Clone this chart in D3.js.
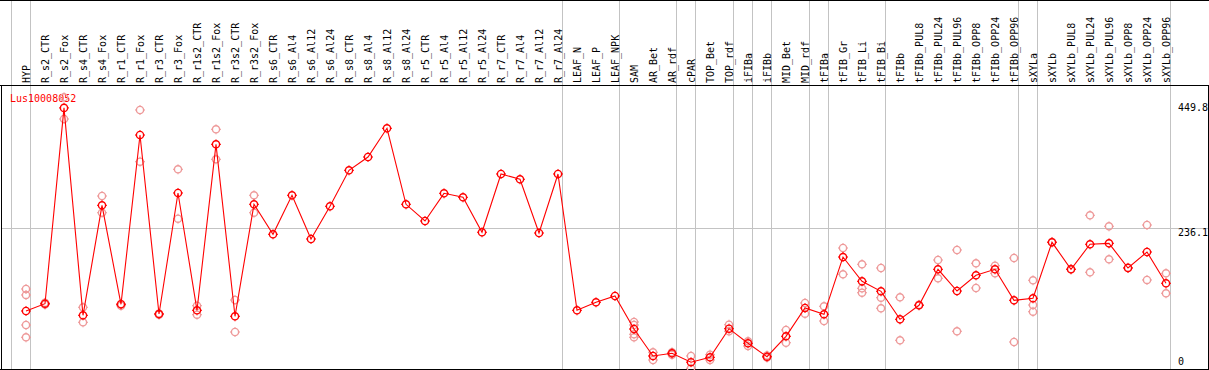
<!DOCTYPE html>
<html>
<head>
<meta charset="utf-8">
<script src="https://cdn.jsdelivr.net/npm/d3@7"></script>
<style>
body { margin: 0; background: #fff; }
svg { display: block; }
text { font-family: "DejaVu Sans Mono", monospace; font-size: 10px; }
</style>
</head>
<body>
<div id="chart"></div>
<script>
(function() {

const w = 1209;
const h = 370;

const geneName = "Lus10008052";

const categories = [
    "HYP", "R_s2_CTR", "R_s2_Fox", "R_s4_CTR", "R_s4_Fox", "R_r1_CTR", "R_r1_Fox",
    "R_r3_CTR", "R_r3_Fox", "R_r1s2_CTR", "R_r1s2_Fox", "R_r3s2_CTR", "R_r3s2_Fox",
    "R_s6_CTR", "R_s6_Al4", "R_s6_Al12", "R_s6_Al24", "R_s8_CTR", "R_s8_Al4", "R_s8_Al12",
    "R_s8_Al24", "R_r5_CTR", "R_r5_Al4", "R_r5_Al12", "R_r5_Al24", "R_r7_CTR", "R_r7_Al4",
    "R_r7_Al12", "R_r7_Al24", "LEAF_N", "LEAF_P", "LEAF_NPK", "SAM", "AR_Bet", "AR_rdf",
    "cPAR", "TOP_Bet", "TOP_rdf", "iFIBa", "iFIBb", "MID_Bet", "MID_rdf", "tFIBa",
    "tFIB_Gr", "tFIB_Li", "tFIB_Bi", "tFIBb", "tFIBb_PUL8", "tFIBb_PUL24", "tFIBb_PUL96",
    "tFIBb_OPP8", "tFIBb_OPP24", "tFIBb_OPP96", "sXYLa", "sXYLb", "sXYLb_PUL8",
    "sXYLb_PUL24", "sXYLb_PUL96", "sXYLb_OPP8", "sXYLb_OPP24", "sXYLb_OPP96"
];

// mean expression per sample
const means = [
    89.6, 102.5, 449.8, 81.9, 277.0, 101.5, 401.7, 84.2, 298.9, 90.8, 385.2, 80.2, 278.8,
    225.6, 294.8, 217.3, 275.3, 339.1, 362.7, 413.6, 278.8, 249.2, 298.3, 291.2, 229.2,
    332.6, 323.2, 227.9, 332.6, 90.8, 105.0, 116.2, 57.6, 9.8, 14.5, -1.2, 7.4, 58.2,
    32.3, 8.5, 44.7, 94.9, 83.7, 185.3, 142.2, 124.5, 74.8, 99.7, 163.5, 125.0, 152.9,
    163.5, 108.5, 112.1, 211.4, 163.5, 207.9, 209.6, 165.8, 194.2, 138.7
];

// individual replicates per sample (empty where none were shown)
const replicates = [
    [128.6, 118.0, 64.7, 42.9], [104.0, 101.0], [468.6, 430.1], [96.1, 69.5], [293.5, 263.9],
    [102.0, 99.0], [446.1, 354.4], [85.0, 83.0], [340.9, 253.3], [99.0, 83.0], [411.8, 358.6],
    [109.1, 52.3], [294.8, 263.9],
    [], [], [], [], [], [], [], [], [], [], [], [], [], [], [], [],
    [], [], [],
    [70.1, 64.7, 48.2, 42.9], [16.3, 2.7], [16.3, 12.1], [9.8, -12.1], [12.1, 2.7],
    [65.3, 53.6], [35.8, 27.5], [10.6, 7.0], [55.9, 33.3], [103.8, 84.8], [97.9, 71.8],
    [201.3, 154.7], [172.4, 129.8, 122.0], [165.8, 113.2, 94.4], [113.9, 37.6], [100.5],
    [180.0, 147.6], [197.8, 53.6], [174.2, 130.4], [169.9, 156.4], [183.6, 34.6],
    [144.0, 100.2, 88.3], [212.0], [164.0], [259.3, 158.2], [239.8, 181.3], [166.5],
    [242.1, 144.6], [156.4, 121.0]
];

const yTicks = [0, 236.1, 449.8];

// sample index after which a separator is drawn (-1 = before the first one)
const groupEnds = [-1, 0, 28, 31, 34, 35, 37, 38, 39, 41, 42, 45, 52, 53, 60];

const headerBottom = 85;
const plotBottom = 369;

const xScale = d3.scaleLinear()
    .domain([0, categories.length - 1])
    .range([26, 1166]);

const yScale = d3.scaleLinear()
    .domain([0, 449.8])
    .range([361.5, 107.9]);

const svg = d3.select("#chart")
    .append("svg")
    .attr("width", w)
    .attr("height", h);

function crisp(v) {
    return Math.round(v) + 0.5;
}

// vertical group separators
svg.selectAll("line.sep")
    .data(groupEnds)
    .enter()
    .append("line")
    .attr("class", "sep")
    .attr("x1", function(d) { return crisp(xScale(d) + 4); })
    .attr("x2", function(d) { return crisp(xScale(d) + 4); })
    .attr("y1", 0)
    .attr("y2", plotBottom)
    .attr("stroke", "#c3c3c3")
    .attr("stroke-width", 1);

// horizontal grid lines (not at the ends)
svg.selectAll("line.grid")
    .data(yTicks.filter(function(d, i) { return i > 0 && i < yTicks.length - 1; }))
    .enter()
    .append("line")
    .attr("class", "grid")
    .attr("x1", 1)
    .attr("x2", w)
    .attr("y1", function(d) { return crisp(yScale(d) - 0.5); })
    .attr("y2", function(d) { return crisp(yScale(d) - 0.5); })
    .attr("stroke", "#c3c3c3")
    .attr("stroke-width", 1);

// frame
svg.append("line")
    .attr("x1", 0).attr("x2", w)
    .attr("y1", 0.5).attr("y2", 0.5)
    .attr("stroke", "black");
svg.append("line")
    .attr("x1", 0).attr("x2", w)
    .attr("y1", headerBottom + 0.5).attr("y2", headerBottom + 0.5)
    .attr("stroke", "black");
svg.append("line")
    .attr("x1", 0).attr("x2", w)
    .attr("y1", plotBottom + 0.5).attr("y2", plotBottom + 0.5)
    .attr("stroke", "black");
svg.append("line")
    .attr("x1", 1.5).attr("x2", 1.5)
    .attr("y1", headerBottom).attr("y2", plotBottom)
    .attr("stroke", "black");
svg.append("line")
    .attr("x1", 1208.5).attr("x2", 1208.5)
    .attr("y1", headerBottom).attr("y2", plotBottom)
    .attr("stroke", "black");

// sample names in the header
svg.selectAll("text.sample")
    .data(categories)
    .enter()
    .append("text")
    .attr("class", "sample")
    .attr("transform", function(d, i) {
        return "translate(" + (xScale(i) + 3.5) + "," + (headerBottom - 2) + ") rotate(-90)";
    })
    .attr("fill", "black")
    .text(function(d) { return d; });

// value labels on the right
svg.selectAll("text.tick")
    .data(yTicks)
    .enter()
    .append("text")
    .attr("class", "tick")
    .attr("x", 1178)
    .attr("y", function(d, i) {
        var inner = i > 0 && i < yTicks.length - 1;
        return yScale(d) + (inner ? 4 : 0);
    })
    .attr("dominant-baseline", "central")
    .attr("fill", "black")
    .text(function(d) { return d; });

// gene name
svg.append("text")
    .attr("x", 10)
    .attr("y", 98)
    .attr("dominant-baseline", "central")
    .attr("fill", "red")
    .text(geneName);

// little circle with ticks on it, like the original markers
const markerPath = "M0,-5V-3.2M0,3.2V5M-5,0H-3.2M3.2,0H5";

function drawMarker(sel, colour) {
    sel.append("circle")
        .attr("r", 3.6)
        .attr("fill", "none")
        .attr("stroke", colour)
        .attr("stroke-width", 1.4);
    sel.append("path")
        .attr("d", markerPath)
        .attr("fill", "none")
        .attr("stroke", colour)
        .attr("stroke-width", 1);
}

// replicates
var repPoints = [];
replicates.forEach(function(reps, i) {
    reps.forEach(function(v) {
        repPoints.push({ i: i, v: v });
    });
});

svg.selectAll("g.rep")
    .data(repPoints)
    .enter()
    .append("g")
    .attr("class", "rep")
    .attr("transform", function(d) {
        return "translate(" + xScale(d.i) + "," + yScale(d.v) + ")";
    })
    .call(drawMarker, "#ee9a9a");

// mean line
const line = d3.line()
    .x(function(d, i) { return xScale(i); })
    .y(function(d) { return yScale(d); });

svg.append("path")
    .datum(means)
    .attr("d", line)
    .attr("fill", "none")
    .attr("stroke", "red")
    .attr("stroke-width", 1.1);

svg.selectAll("g.mean")
    .data(means)
    .enter()
    .append("g")
    .attr("class", "mean")
    .attr("transform", function(d, i) {
        return "translate(" + xScale(i) + "," + yScale(d) + ")";
    })
    .call(drawMarker, "red");

})();
</script>
</body>
</html>
